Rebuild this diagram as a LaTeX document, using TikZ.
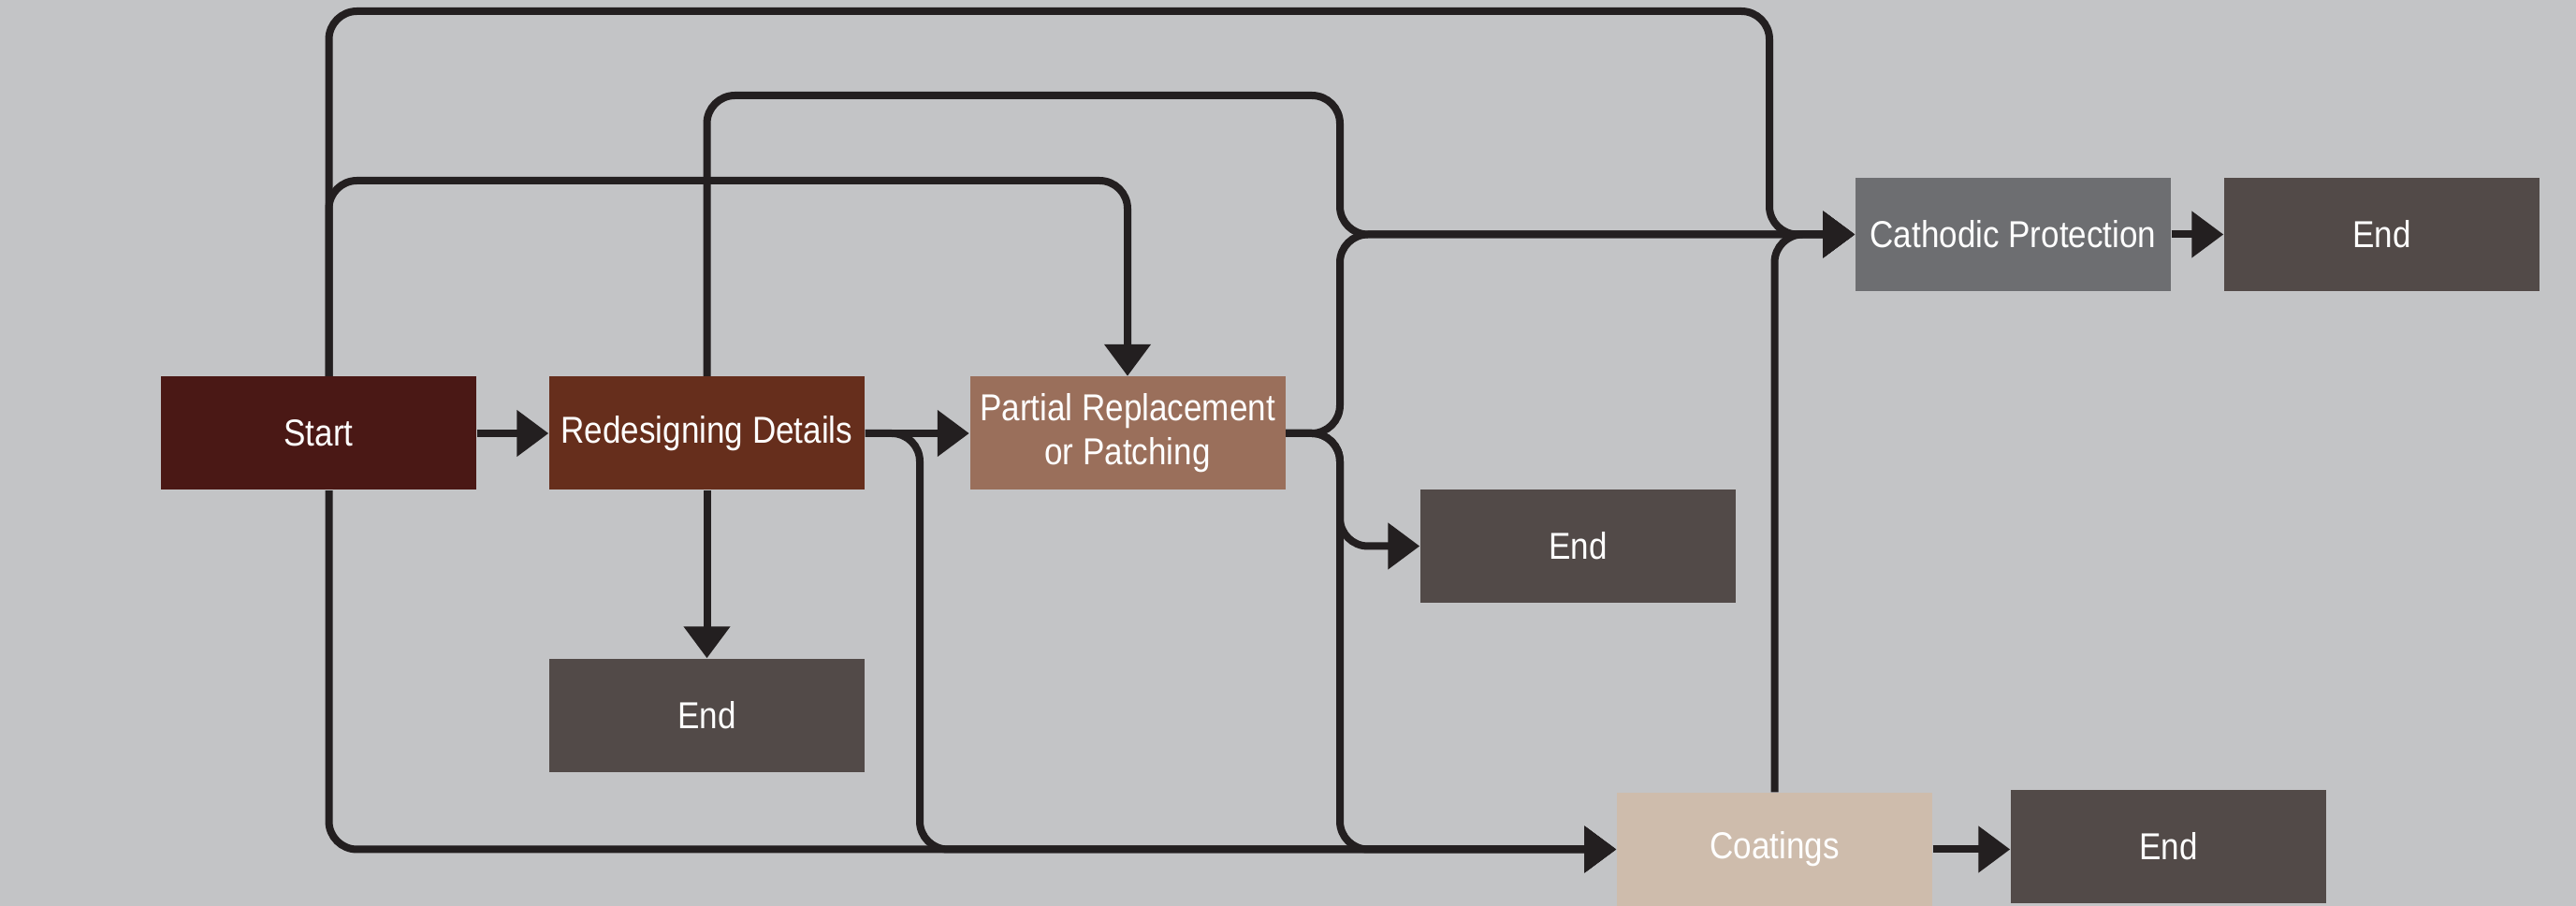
\documentclass[tikz,border=0pt]{standalone}
\usepackage{fontspec}
\setmainfont{Liberation Sans}[FakeStretch=0.875]
\usetikzlibrary{arrows.meta}
\definecolor{bgc}{HTML}{C3C4C6}
\definecolor{linec}{HTML}{231F20}
\definecolor{startc}{HTML}{4A1815}
\definecolor{redesc}{HTML}{662E1C}
\definecolor{partc}{HTML}{9A6F5B}
\definecolor{endc}{HTML}{524A48}
\definecolor{cathc}{HTML}{6D6E71}
\definecolor{coatc}{HTML}{CEBCAC}
\newcommand{\boxfont}{\fontsize{11.4pt}{13.4pt}\selectfont}
\begin{document}
\begin{tikzpicture}
\tikzstyle{stage} = [rectangle, minimum width=3.37cm, minimum height=1.21cm, inner sep=0pt, text=white, font=\boxfont, align=center]
\tikzstyle{edge} = [draw=linec, line width=0.08cm, rounded corners=0.3cm, -{Triangle[width=4.8mm,length=3.4mm]}]

\fill[bgc] (0,0) rectangle (27.53,-9.68);
\useasboundingbox (0,0) rectangle (27.53,-9.68);

\node[stage, fill=startc] (start) at (3.405,-4.63) {Start};
\node[stage, fill=redesc] (redesign) at (7.555,-4.63) {Redesigning Details};
\node[stage, fill=partc] (partial) at (12.05,-4.63) {Partial Replacement\\or Patching};
\node[stage, fill=endc] (end1) at (7.555,-7.645) {End};
\node[stage, fill=endc] (end2) at (16.865,-5.835) {End};
\node[stage, fill=coatc] (coat) at (18.965,-9.075) {Coatings};
\node[stage, fill=endc] (end3) at (23.175,-9.045) {End};
\node[stage, fill=cathc] (cath) at (21.515,-2.505) {Cathodic Protection};
\node[stage, fill=endc] (end4) at (25.455,-2.505) {End};

\coordinate (t1) at (18.91,-0.12);
\coordinate (t2) at (14.32,-1.02);
\coordinate (t3) at (12.05,-1.93);
\coordinate (d1) at (9.83,-9.075);
\coordinate (bus) at (14.32,0);

\draw[edge] ([xshift=1.1mm]start.north) |- (t1) |- (cath.west);
\draw[edge] ([xshift=1.1mm]start.north) |- (t3) -- (partial.north);
\draw[edge] ([xshift=1.1mm]start.south) |- (coat.west);
\draw[edge] (start) -- (redesign);
\draw[edge] (redesign.north) |- (t2) |- (cath.west);
\draw[edge] (redesign) -- (partial);
\draw[edge] (redesign) -- (end1);
\draw[edge] (redesign.east) -| (d1) -- (coat.west);
\draw[edge] (partial.east) -| (bus |- cath.west) -- (cath.west);
\draw[edge] (partial.east) -| (bus |- end2.west) -- (end2.west);
\draw[edge] (partial.east) -| (bus |- coat.west) -- (coat.west);
\draw[edge] (coat.north) |- (cath.west);
\draw[edge] (coat.east) -- (coat.east -| end3.west);
\draw[edge] (cath) -- (end4);
\end{tikzpicture}
\end{document}
